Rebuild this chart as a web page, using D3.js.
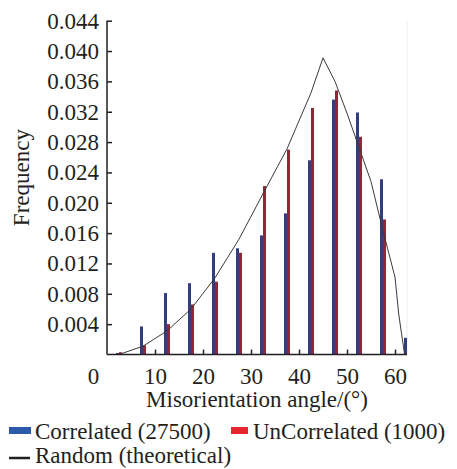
<!DOCTYPE html>
<html><head><meta charset="utf-8">
<script src="https://cdn.jsdelivr.net/npm/d3@7/dist/d3.min.js"></script>
<style>
html,body{margin:0;padding:0;background:#fff;}
svg text{font-family:"Liberation Serif","Times New Roman",serif;fill:#231f20;}
</style></head>
<body><svg id="c" width="457" height="469"></svg>
<script>
const binCenters = [2.5, 7.5, 12.5, 17.5, 22.5, 27.5, 32.5, 37.5, 42.5, 47.5, 52.5, 57.5, 62.5];
const correlated = [0.0002, 0.0037, 0.0081, 0.0094, 0.0134, 0.0140, 0.0157, 0.0186, 0.0256, 0.0336, 0.0319, 0.0231, 0.0022];
const uncorrelated = [0.0003, 0.0012, 0.0040, 0.0066, 0.0096, 0.0134, 0.0222, 0.0270, 0.0325, 0.0348, 0.0287, 0.0178, 0];
const randomAngles = [2.5, 7.5, 12.5, 17.5, 22.5, 27.5, 32.5, 37.5, 42.5, 45, 47.5, 50, 52.5, 55, 57.5, 60, 60.8, 62];
const randomValues = [0, 0.0011, 0.0031, 0.0060, 0.0101, 0.0152, 0.0212, 0.0271, 0.0345, 0.0391, 0.0360, 0.0318, 0.0273, 0.0228, 0.0163, 0.0102, 0.0052, 0];
const xTicks = [0, 10, 20, 30, 40, 50, 60];
const yTicks = [0.004, 0.008, 0.012, 0.016, 0.020, 0.024, 0.028, 0.032, 0.036, 0.040, 0.044];
const xTitle = "Misorientation angle/(°)";
const yTitle = "Frequency";
const legendItems = [
  {label: "Correlated (27500)", color: "#2a5aa9", type: "rect"},
  {label: "UnCorrelated (1000)", color: "#e6262c", type: "rect"},
  {label: "Random (theoretical)", color: "#231f20", type: "line"}
];
const barColors = {correlated: "#343c80", uncorrelated: "#8a2a35"};

const svg = d3.select("#c");
const x = d3.scaleLinear().domain([0, 62.5]).range([107, 407]);
const y = d3.scaleLinear().domain([0, 0.044]).range([354.5, 20.7]);
const bw = x(0.625) - x(0);

// faint right border
svg.append("line").attr("x1", x(62.5)).attr("x2", x(62.5)).attr("y1", y(0.044)).attr("y2", y(0))
  .attr("stroke", "#eeeeee").attr("stroke-width", 1);

// bars
svg.append("g").selectAll("rect").data(binCenters).join("rect")
  .attr("x", d => x(d) - bw).attr("width", bw)
  .attr("y", (d, i) => y(correlated[i])).attr("height", (d, i) => y(0) - y(correlated[i]))
  .attr("fill", barColors.correlated);
svg.append("g").selectAll("rect").data(binCenters).join("rect")
  .attr("x", d => x(d)).attr("width", bw)
  .attr("y", (d, i) => y(uncorrelated[i])).attr("height", (d, i) => y(0) - y(uncorrelated[i]))
  .attr("fill", barColors.uncorrelated);

// random line
const line = d3.line().x(d => x(d[0])).y(d => y(d[1]));
svg.append("path").datum(randomAngles.map((a, i) => [a, randomValues[i]]))
  .attr("d", line).attr("fill", "none").attr("stroke", "#3a3a3a").attr("stroke-width", 1);

// axes
const yAxis = d3.axisLeft(y).tickValues(yTicks).tickSize(-5).tickPadding(8).tickFormat(d3.format(".3f"));
const gy = svg.append("g").attr("transform", `translate(${x(0)},0)`).call(yAxis);
gy.select(".domain").attr("d", `M0,${y(0.044)}V${y(0)}`).attr("stroke", "#231f20").attr("stroke-width", 1.5);
gy.selectAll(".tick line").attr("stroke", "#231f20").attr("stroke-width", 1.5);
gy.selectAll(".tick text").attr("font-size", 23).attr("font-family", "Liberation Serif").attr("fill", "#231f20");

const xAxis = d3.axisBottom(x).tickValues(xTicks).tickSize(-5).tickPadding(13).tickFormat(d3.format("d"));
const gx = svg.append("g").attr("transform", `translate(0,${y(0)})`).call(xAxis);
gx.select(".domain").attr("d", `M${x(0)},0H${x(62.5)}`).attr("stroke", "#231f20").attr("stroke-width", 1.5);
gx.selectAll(".tick line").attr("stroke", "#231f20").attr("stroke-width", 1.5).filter(d => d === 0).remove();
gx.selectAll(".tick text").attr("font-size", 23).attr("font-family", "Liberation Serif").attr("fill", "#231f20")
  .attr("dx", d => d === 0 ? -14 : 0);

// titles
svg.append("text").attr("x", (x(0) + x(62.5)) / 2 + 0).attr("y", 407).attr("text-anchor", "middle")
  .attr("font-size", 23).text(xTitle);
svg.append("text").attr("transform", `translate(29,${(y(0.044)+y(0))/2 - 10}) rotate(-90)`)
  .attr("text-anchor", "middle").attr("font-size", 23).text(yTitle);

// legend
const lg = svg.append("g");
const pos = [[9, 439], [231, 439], [9, 463]];
legendItems.forEach((it, i) => {
  const [lx, ly] = pos[i];
  if (it.type === "rect") {
    lg.append("rect").attr("x", lx).attr("y", ly - 12).attr("width", i === 0 ? 22 : 17).attr("height", 7).attr("fill", it.color);
  } else {
    lg.append("line").attr("x1", lx).attr("x2", lx + 21).attr("y1", ly - 5).attr("y2", ly - 5)
      .attr("stroke", it.color).attr("stroke-width", 2.5);
  }
  lg.append("text").attr("x", lx + (i === 1 ? 22 : 26)).attr("y", ly).attr("font-size", 23).text(it.label);
});
</script></body></html>
